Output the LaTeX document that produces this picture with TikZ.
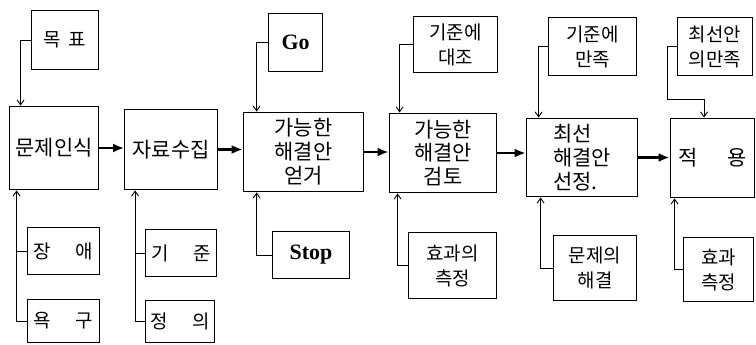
\documentclass[tikz,border=0pt]{standalone}
\usepackage{fontspec}
\newfontfamily\kr{Noto Sans CJK KR}
\newfontfamily\en{Liberation Serif}
\usetikzlibrary{arrows.meta}

\begin{document}
\begin{tikzpicture}[x=1bp,y=-1bp,
    box/.style={draw,line width=1.1pt,inner sep=0pt,align=center,font={\kr\fontsize{21}{24}\selectfont}},
    side/.style={box,font={\kr\fontsize{19}{25}\selectfont}},
    word/.style={font={\en\bfseries\fontsize{22}{24}\selectfont}},
    feed/.style={line width=0.9pt,-{Straight Barb[length=5pt,width=7pt]}},
    flow/.style={line width=2.2pt,-{Latex[length=11pt,width=9pt]}}]
    \useasboundingbox (0,0) rectangle (756,344);
    %% main steps
    \node[box,minimum width=90,minimum height=84] (recog) at (54,148) {문제인식};
    \node[box,minimum width=93,minimum height=81] (collect) at (171,149.5) {자료수집};
    \node[box,minimum width=121,minimum height=80] (find) at (303.5,152) {가능한\\해결안\\얻거};
    \node[box,minimum width=108,minimum height=80] (review) at (443,153) {가능한\\해결안\\검토};
    \node[box,align=left,minimum width=112,minimum height=79] (select) at (582,157.5) {최선\\해결안\\선정.};
    \node[box,minimum width=85,minimum height=80] (apply) at (712.5,158) {적\hspace{1.4em}용};
    %% inputs from above
    \node[side,minimum width=68,minimum height=60] (goal) at (65,40) {목\hspace{0.4em}표};
    \node[side,word,minimum width=55,minimum height=59] (go) at (295.5,42.5) {Go};
    \node[side,minimum width=85,minimum height=57] (compare) at (455.5,44.5) {기준에\\대조};
    \node[side,minimum width=89,minimum height=59] (satisfy) at (592.5,46.5) {기준에\\만족};
    \node[side,minimum width=76,minimum height=59] (best) at (715,46.5) {최선안\\의만족};
    %% inputs from below
    \node[side,minimum width=73,minimum height=48] (obst) at (63.5,251) {장\hspace{1.3em}애};
    \node[side,minimum width=73,minimum height=44] (need) at (63.5,321) {욕\hspace{1.3em}구};
    \node[side,minimum width=72,minimum height=48] (crit) at (181,253) {기\hspace{1.3em}준};
    \node[side,minimum width=70,minimum height=43] (defn) at (180,321.5) {정\hspace{1.3em}의};
    \node[side,word,minimum width=78,minimum height=48] (stop) at (311,255) {Stop};
    \node[side,minimum width=89,minimum height=67] (effect) at (452.5,265.5) {효과의\\측정};
    \node[side,minimum width=84,minimum height=66] (solved) at (595,268) {문제의\\해결};
    \node[side,minimum width=71,minimum height=65] (measure) at (718.5,269.5) {효과\\측정};
    %% flow along the main row
    \draw[flow] (recog.east) -- (recog.east -| collect.west);
    \draw[flow] (collect.east) -- (collect.east -| find.west);
    \draw[flow] (find.east) -- (find.east -| review.west);
    \draw[flow] (review.east) -- (review.east -| select.west);
    \draw[flow] (select.east) -- (select.east -| apply.west);
    %% feeds from above
    \draw[feed] (goal.west) -| ([xshift=12]recog.north west);
    \draw[feed] (go.west) -| ([xshift=14]find.north west);
    \draw[feed] (compare.west) -| ([xshift=11]review.north west);
    \draw[feed] (satisfy.west) -| ([xshift=13]select.north west);
    \draw[feed] (best.west) -- ++(-9,0) -- ++(0,52.5) -| ([xshift=-8.5]apply.north);
    %% feeds from below
    \draw[feed] (need.west) -| ([xshift=8]recog.south west);
    \draw[line width=0.9pt] (obst.west) -- ++(-10,0);
    \draw[feed] (defn.west) -| ([xshift=11]collect.south west);
    \draw[line width=0.9pt] (crit.west) -- ++(-10,0);
    \draw[feed] (stop.west) -| ([xshift=14]find.south west);
    \draw[feed] (effect.west) -| ([xshift=9]review.south west);
    \draw[feed] (solved.west) -| ([xshift=15]select.south west);
    \draw[feed] (measure.west) -| ([xshift=5]apply.south west);
\end{tikzpicture}
\end{document}
